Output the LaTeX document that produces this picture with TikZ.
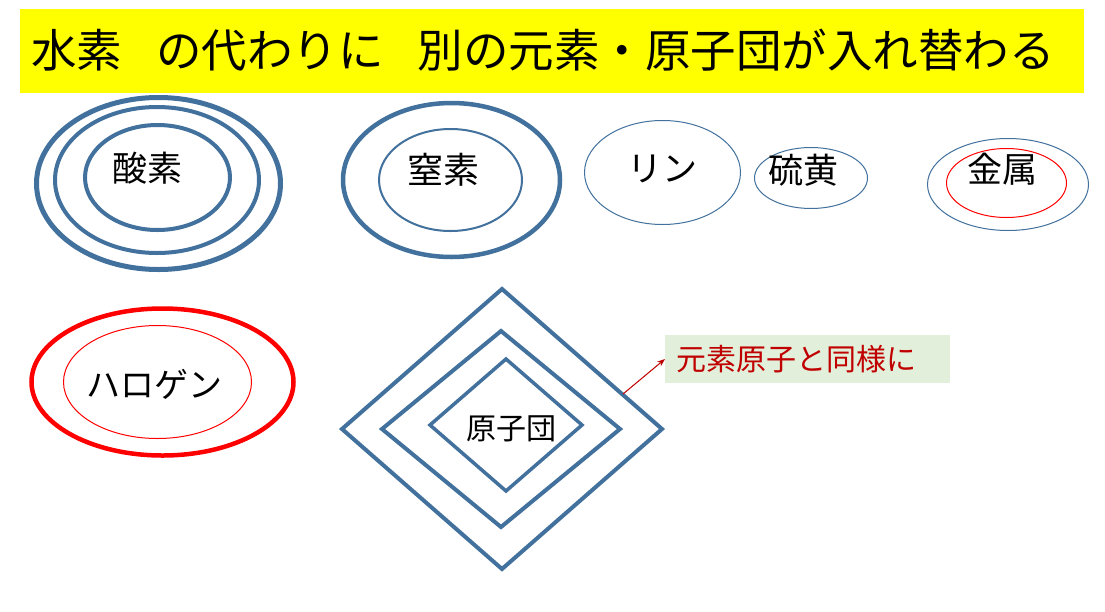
\documentclass[tikz,border=0pt]{standalone}
\usepackage{fontspec}
\setmainfont{Noto Sans CJK JP}
\usetikzlibrary{shapes.geometric,arrows.meta}
\definecolor{oblue}{RGB}{65,113,156}
\definecolor{dred}{RGB}{192,0,0}
\definecolor{lgreen}{RGB}{226,239,218}
\definecolor{yel}{RGB}{255,255,0}
\tikzset{
  oval/.style={ellipse, inner sep=0pt, outer sep=0pt},
  dia/.style={diamond, draw=oblue, inner sep=0pt, outer sep=0pt, line width=4pt, miter limit=20},
  lbl/.style={inner sep=0pt, font=\fontsize{35}{35}\selectfont},
}
\begin{document}
\begin{tikzpicture}[x=1pt,y=-1pt]
\useasboundingbox (0,0) rectangle (1105,611);
\fill[white] (0,0) rectangle (1105,611);
% banner
\node[fill=yel, minimum width=1064, minimum height=84, anchor=north west, inner sep=0pt, outer sep=0pt] (banner) at (20,9) {};
\node[anchor=west, inner sep=0pt, font=\fontsize{45.5}{45.5}\selectfont] (title) at (31,50) {水素\hspace{0.75em}の代わりに\hspace{0.75em}別の元素・原子団が入れ替わる};
% oxygen
\node[oval, draw=oblue, line width=5pt, minimum width=244, minimum height=172] (ox3) at (158.5,183.5) {};
\node[oval, draw=oblue, line width=4pt, minimum width=204, minimum height=146] (ox2) at (157,180) {};
\node[oval, draw=oblue, line width=4pt, minimum width=145, minimum height=105] (ox1) at (157.5,177.5) {};
\node[lbl] (sanso) at (147,168) {酸素};
% nitrogen
\node[oval, draw=oblue, line width=4.5pt, minimum width=217, minimum height=154] (ni2) at (451.5,180) {};
\node[oval, draw=oblue, line width=2pt, minimum width=143, minimum height=102] (ni1) at (450.5,180) {};
\node[lbl, font=\fontsize{36}{36}\selectfont] (chisso) at (443,170) {窒素};
% phosphorus
\node[oval, draw=oblue, line width=1pt, minimum width=156, minimum height=104] (ph) at (662.5,172.5) {};
\node[lbl] (rin) at (662,169) {リン};
% sulfur
\node[oval, draw=oblue, line width=1pt, minimum width=113, minimum height=61] (su) at (811,178) {};
\node[lbl] (ioo) at (803.5,170.5) {硫黄};
% metal
\node[oval, draw=oblue, line width=1pt, minimum width=161, minimum height=92] (me2) at (1008,184.5) {};
\node[oval, draw=red, line width=1pt, minimum width=120, minimum height=69] (me1) at (1006.5,183) {};
\node[lbl] (kinzoku) at (1002.5,169) {金属};
% halogen
\node[oval, draw=red, line width=4.5pt, minimum width=262, minimum height=147] (ha2) at (162.5,382) {};
\node[oval, draw=red, line width=1pt, minimum width=188, minimum height=113] (ha1) at (157.5,382) {};
\node[lbl, font=\fontsize{34}{34}\selectfont] (halogen) at (154,384.5) {ハロゲン};
% atomic group
\node[dia, minimum width=320, minimum height=280] (dg3) at (502,429) {};
\node[dia, minimum width=238, minimum height=196] (dg2) at (501,429) {};
\node[dia, line width=3.5pt, minimum width=152, minimum height=132] (dg1) at (506,425) {};
\node[lbl, font=\fontsize{30}{30}\selectfont] (genshidan) at (511.5,428.5) {原子団};
% note
\node[fill=lgreen, anchor=west, minimum width=285, minimum height=48, inner xsep=11pt, inner ysep=0pt, text width=263pt, align=left, text=dred, font=\fontsize{30}{30}\selectfont] (note) at (665,359) {元素原子と同様に};
\coordinate (as) at (623,394);
\draw[dred, line width=1pt, -{Stealth[length=8pt,width=6pt]}] (as) -- (note.west);
\end{tikzpicture}
\end{document}
